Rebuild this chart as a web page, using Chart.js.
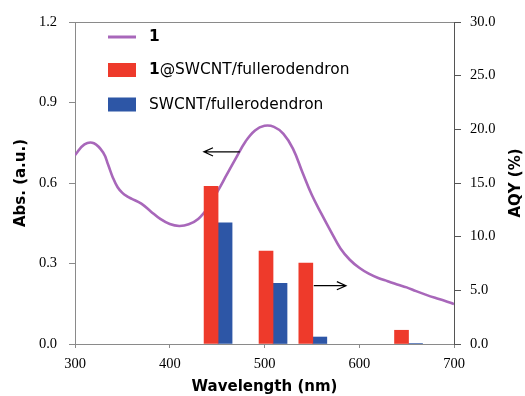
<!DOCTYPE html>
<html>
<head>
<meta charset="utf-8">
<script src="https://cdn.jsdelivr.net/npm/chart.js@4.4.1/dist/chart.umd.min.js"></script>
<style>
  html, body { margin: 0; padding: 0; background: #ffffff; }
  #c { display: block; }
</style>
</head>
<body>
<canvas id="c" width="525" height="396"></canvas>
<script>
// ---- data ----
const wavelengths = [300,310,320,330,335,340,345,350,355,360,370,380,390,400,410,420,430,440,450,460,470,480,490,500,510,520,530,540,550,560,570,580,590,600,610,620,630,640,650,660,670,680,690,700];
const absorbance  = [0.704,0.744,0.748,0.712,0.668,0.620,0.584,0.563,0.550,0.541,0.523,0.494,0.466,0.447,0.440,0.446,0.466,0.507,0.566,0.630,0.694,0.755,0.796,0.813,0.809,0.783,0.728,0.640,0.555,0.486,0.420,0.357,0.314,0.284,0.262,0.246,0.234,0.222,0.211,0.197,0.184,0.172,0.161,0.149];
const barWavelengths = [451, 509, 551, 652];
const aqyComposite = [14.7, 8.65, 7.55, 1.28];   // 1@SWCNT/fullerodendron
const aqyBare      = [11.3, 5.65, 0.65, 0.05];    // SWCNT/fullerodendron
const xTicks  = [300, 400, 500, 600, 700];
const yTicks  = [0.0, 0.3, 0.6, 0.9, 1.2];
const y2Ticks = [0, 5, 10, 15, 20, 25, 30];
const legendBold = ['1', '1', ''];
const legendRest = ['', '@SWCNT/fullerodendron', 'SWCNT/fullerodendron'];
// arrows: [x1, y1, x2, y2]
const arrowLeft  = [474, 0.716, 436, 0.716];
const arrowRight = [552, 5.43, 586, 5.43];

const PURPLE = '#A867BA', RED = '#EE3A2B', BLUE = '#2D56A6';
const GRAY = '#8a8a8a', DARK = '#555555';
const tickFont = { family: '"Liberation Serif", "Times New Roman", serif', size: 14.5 };
const titleFont = { family: '"DejaVu Sans", Verdana, sans-serif', size: 15, weight: 'bold' };
const legendFontSize = 15.4;

const absData = wavelengths.map((w, i) => ({ x: w, y: absorbance[i] }));
const compData = barWavelengths.map((w, i) => ({ x: w, y: aqyComposite[i] }));
const bareData = barWavelengths.map((w, i) => ({ x: w, y: aqyBare[i] }));

function arrow(ctx, x1, y1, x2, y2) {
  const ang = Math.atan2(y2 - y1, x2 - x1);
  const hl = 10, hw = 0.42;
  ctx.beginPath();
  ctx.moveTo(x1, y1); ctx.lineTo(x2, y2);
  ctx.moveTo(x2 - hl * Math.cos(ang - hw), y2 - hl * Math.sin(ang - hw));
  ctx.lineTo(x2, y2);
  ctx.lineTo(x2 - hl * Math.cos(ang + hw), y2 - hl * Math.sin(ang + hw));
  ctx.stroke();
}

const extras = {
  id: 'extras',
  afterDatasetsDraw(chart) {
    const { ctx, scales } = chart;
    const x = scales.x, y = scales.y, y2 = scales.y2;
    ctx.save();
    ctx.strokeStyle = '#000';
    ctx.lineWidth = 1.2;
    arrow(ctx, x.getPixelForValue(arrowLeft[0]), y.getPixelForValue(arrowLeft[1]),
               x.getPixelForValue(arrowLeft[2]), y.getPixelForValue(arrowLeft[3]));
    arrow(ctx, x.getPixelForValue(arrowRight[0]), y2.getPixelForValue(arrowRight[1]),
               x.getPixelForValue(arrowRight[2]), y2.getPixelForValue(arrowRight[3]));
    ctx.restore();
  },
  afterDraw(chart) {
    const { ctx, chartArea } = chart;
    ctx.save();
    // legend
    const lx = 108, textX = 149;
    const rows = [37, 70, 104.5];
    const swatch = [PURPLE, RED, BLUE];
    rows.forEach((ry, i) => {
      if (i === 0) {
        ctx.strokeStyle = PURPLE; ctx.lineWidth = 3;
        ctx.beginPath(); ctx.moveTo(lx, ry); ctx.lineTo(lx + 28, ry); ctx.stroke();
      } else {
        ctx.fillStyle = swatch[i];
        ctx.fillRect(lx, ry - 7, 28, 14);
      }
      ctx.fillStyle = '#000';
      ctx.textBaseline = 'middle';
      ctx.textAlign = 'left';
      let tx = textX;
      if (legendBold[i]) {
        ctx.font = 'bold ' + legendFontSize + 'px "DejaVu Sans", Verdana, sans-serif';
        ctx.fillText(legendBold[i], tx, ry);
        tx += ctx.measureText(legendBold[i]).width;
      }
      if (legendRest[i]) {
        ctx.font = legendFontSize + 'px "DejaVu Sans", Verdana, sans-serif';
        ctx.fillText(legendRest[i], tx, ry);
      }
    });
    // right axis title (reads bottom to top)
    ctx.translate(516, (chartArea.top + chartArea.bottom) / 2);
    ctx.rotate(-Math.PI / 2);
    ctx.font = 'bold 15px "DejaVu Sans", Verdana, sans-serif';
    ctx.textAlign = 'center';
    ctx.textBaseline = 'middle';
    ctx.fillStyle = '#000';
    ctx.fillText('AQY (%)', 0, 0);
    ctx.restore();
  }
};

new Chart(document.getElementById('c'), {
  type: 'bar',
  data: {
    datasets: [
      { type: 'line', label: '1', data: absData, yAxisID: 'y', xAxisID: 'x',
        borderColor: PURPLE, borderWidth: 2.6, pointRadius: 0, fill: false,
        tension: 0.4, order: 2 },
      { type: 'bar', label: '1@SWCNT/fullerodendron', data: compData, yAxisID: 'y2', xAxisID: 'x',
        backgroundColor: RED, borderWidth: 0, barThickness: 14, order: 1 },
      { type: 'bar', label: 'SWCNT/fullerodendron', data: bareData, yAxisID: 'y2', xAxisID: 'x',
        backgroundColor: BLUE, borderWidth: 0, barThickness: 14, order: 1 }
    ]
  },
  options: {
    responsive: false,
    animation: false,
    layout: { padding: { top: 22, left: 0, right: 0, bottom: 0 } },
    plugins: { legend: { display: false }, tooltip: { enabled: false } },
    scales: {
      x: {
        type: 'linear', position: 'bottom', min: 300, max: 700, offset: false,
        afterBuildTicks: s => { s.ticks = xTicks.map(v => ({ value: v })); },
        afterFit: s => { s.height = 52; },
        ticks: { font: tickFont, color: '#000', padding: 7, maxRotation: 0, autoSkip: false },
        grid: { drawOnChartArea: false, offset: false, tickLength: 4, color: GRAY, tickColor: GRAY },
        border: { color: GRAY, width: 1 },
        title: { display: true, text: 'Wavelength (nm)', font: titleFont, color: '#000', padding: { top: 0, bottom: 0 } }
      },
      y: {
        type: 'linear', position: 'left', min: 0, max: 1.2,
        afterBuildTicks: s => { s.ticks = yTicks.map(v => ({ value: v })); },
        afterFit: s => { s.width = 75; },
        ticks: { font: tickFont, color: '#000', padding: 12, callback: v => Number(v).toFixed(1) },
        grid: { drawOnChartArea: true, tickLength: 6,
                color: c => (c.index === yTicks.length - 1 ? GRAY : 'rgba(0,0,0,0)'),
                tickColor: GRAY },
        border: { color: GRAY, width: 1 },
        title: { display: true, text: 'Abs. (a.u.)', font: titleFont, color: '#000', padding: { top: 12, bottom: 0 } }
      },
      y2: {
        type: 'linear', position: 'right', min: 0, max: 30,
        afterBuildTicks: s => { s.ticks = y2Ticks.map(v => ({ value: v })); },
        afterFit: s => { s.width = 71; },
        ticks: { font: tickFont, color: '#000', padding: 9, callback: v => Number(v).toFixed(1) },
        grid: { drawOnChartArea: false, tickLength: 7, color: DARK, tickColor: DARK },
        border: { color: DARK, width: 1 }
      }
    }
  },
  plugins: [extras]
});
</script>
</body>
</html>
